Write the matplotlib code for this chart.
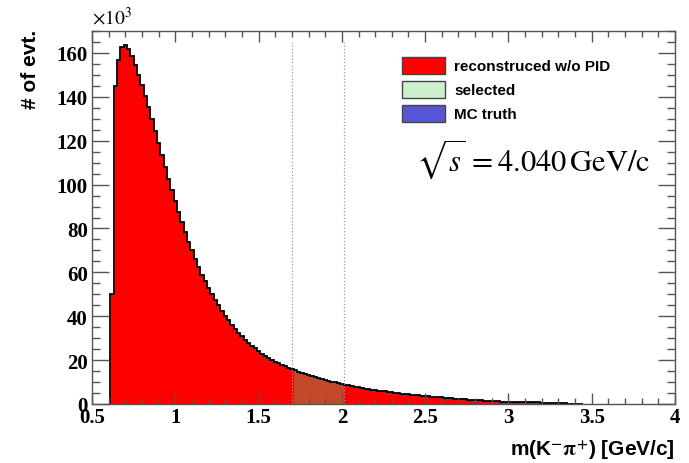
import numpy as np
import matplotlib
matplotlib.use("Agg")
import matplotlib.pyplot as plt
from matplotlib.patches import Rectangle

plt.rcParams['mathtext.fontset'] = 'stix'

# histogram: m(K-pi+) in bins of 0.02 GeV starting at 0.61, counts in units of 10^3
first_edge = 0.61
bin_width = 0.02
counts_k = [
    50, 145, 157, 162.5, 163.5, 162, 158.5, 154.5, 150, 145.5,
    140.5, 135.5, 130, 124.5, 119, 113.5, 108, 102.5, 97.5, 92.5,
    87.5, 83, 78.5, 74, 70, 66, 62.5, 59, 56, 53,
    50, 47.5, 45, 42.5, 40.3, 38.2, 36.2, 34.2, 32.4, 30.8,
    29.3, 27.9, 26.6, 25.3, 24.1, 23.0, 22.0, 21.0, 20.1, 19.3,
    18.5, 17.8, 17.1, 16.5, 15.9, 15.3, 14.7, 14.1, 13.6, 13.1,
    12.6, 12.2, 11.7, 11.3, 10.9, 10.5, 10.1, 9.8, 9.5, 9.2,
    8.8, 8.5, 8.2, 7.9, 7.6, 7.3, 7.0, 6.8, 6.6, 6.3,
    6.1, 5.9, 5.7, 5.5, 5.3, 5.1, 4.9, 4.7, 4.5, 4.4,
    4.2, 4.1, 3.9, 3.8, 3.7, 3.6, 3.4, 3.3, 3.2, 3.1,
    2.9, 2.8, 2.7, 2.5, 2.4, 2.3, 2.1, 2.0, 1.9, 1.8,
    1.7, 1.6, 1.5, 1.4, 1.3, 1.25, 1.2, 1.1, 1.05, 1.0,
    0.95, 0.9, 0.9, 0.85, 0.85, 0.8, 0.8, 0.75, 0.7, 0.65,
    0.6, 0.55, 0.5, 0.45, 0.4, 0.35, 0.3, 0.15, 0.1, 0.1,
    0.1, 0.05,
]

# selection window
sel_lo = 1.70
sel_hi = 2.01
sel_line_top = 165

x_ticks = [0.5, 1, 1.5, 2, 2.5, 3, 3.5, 4]
x_tick_labels = ['0.5', '1', '1.5', '2', '2.5', '3', '3.5', '4']
y_ticks = [0, 20, 40, 60, 80, 100, 120, 140, 160]

legend_labels = ['reconstruced w/o PID', 'selected', 'MC truth']
legend_colors = ['#ff0000', '#ccefcc', '#5656d6']

counts = np.array(counts_k)
edges = first_edge + bin_width * np.arange(len(counts) + 1)
centers = edges[:-1] + bin_width / 2

W, H = 689, 464
fig = plt.figure(figsize=(W / 100, H / 100), dpi=100)
ax = fig.add_axes([92 / W, 1 - 405 / H, 583 / W, 373 / H])

# reconstructed (red) and selected window (darker)
ax.stairs(counts, edges, fill=True, color='#ff0000', baseline=0, lw=0)
idx = np.where((centers > sel_lo) & (centers < sel_hi))[0]
ax.stairs(counts[idx], edges[idx[0]:idx[-1] + 2], fill=True,
          color='#c4482a', baseline=0, lw=0)
ax.stairs(counts, edges, color='black', lw=1.3, baseline=0)
ax.vlines([sel_lo, sel_hi], 0, sel_line_top, colors='#999999',
          linestyles=':', lw=0.9)

ax.set_xlim(0.5, 4.0)
ax.set_ylim(0, 170)

# ROOT-like axes
axis_col = '#555555'
for sp in ax.spines.values():
    sp.set_color(axis_col)
    sp.set_linewidth(1.0)
ax.set_xticks(x_ticks)
ax.set_xticklabels(x_tick_labels)
ax.set_xticks(np.arange(0.5, 4.01, 0.1), minor=True)
ax.set_yticks(y_ticks)
ax.set_yticks(np.arange(0, 170.1, 5), minor=True)
ax.tick_params(axis='both', which='both', direction='in', top=True,
               right=True, color=axis_col, width=1.0)
ax.tick_params(axis='x', which='major', length=8, pad=2)
ax.tick_params(axis='x', which='minor', length=4)
ax.tick_params(axis='y', which='major', length=12, pad=3)
ax.tick_params(axis='y', which='minor', length=6)
for lab in ax.get_xticklabels() + ax.get_yticklabels():
    lab.set_fontfamily('Liberation Serif')
    lab.set_fontweight('bold')
    lab.set_fontsize(15)

ax.set_ylabel('# of evt.', loc='top', fontsize=15, fontweight='bold',
              family='Liberation Sans')
ax.yaxis.set_label_coords(-0.09, 1.005)
ax.set_xlabel(r'm(K$^{\mathbf{-}}\mathbf{\pi}^{\mathbf{+}}$) [GeV/c]', loc='right',
              fontsize=15, fontweight='bold', family='Liberation Sans')
ax.xaxis.set_label_coords(1.0, -0.09)

ax.text(0.0, 1.008, r'$\times10^{3}$', transform=ax.transAxes,
        fontsize=14, ha='left', va='bottom')

# legend drawn by hand
for i, (lab, col) in enumerate(zip(legend_labels, legend_colors)):
    yc = 66.7 + 24 * i
    fig.patches.append(Rectangle((402 / W, 1 - (yc + 8.5) / H), 43 / W, 17 / H,
                                 transform=fig.transFigure, facecolor=col,
                                 edgecolor='#444444', lw=1.0))
    fig.text(454 / W, 1 - yc / H, lab, fontsize=11, fontweight='bold',
             family='Liberation Sans', ha='left', va='center')

fig.text(650 / W, 1 - 171 / H, r'$\sqrt{s}\, =4.040\,\mathrm{GeV/c}$',
         fontsize=22, ha='right', va='baseline')

fig.savefig('out.png', dpi=100)
